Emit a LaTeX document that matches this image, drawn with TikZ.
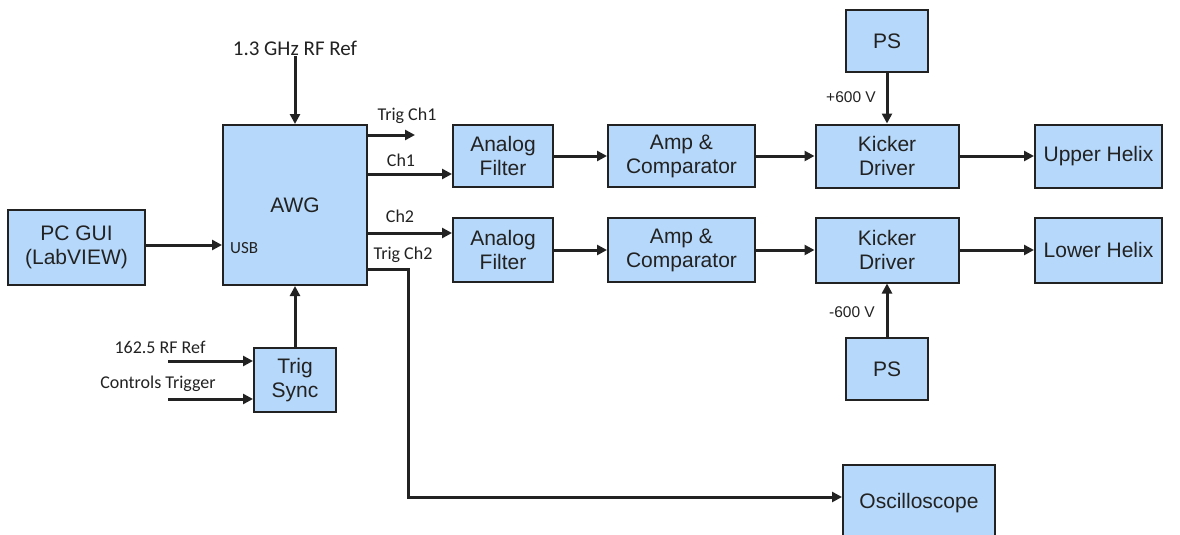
\documentclass[tikz,border=0pt]{standalone}
\usepackage{fontspec}
\setmainfont{Liberation Sans}
\newfontfamily\lblfont{Carlito}
\usetikzlibrary{arrows.meta,positioning,calc}
\definecolor{blockblue}{RGB}{182,216,250}
\definecolor{inkgray}{RGB}{34,34,34}

\begin{document}
\begin{tikzpicture}[x=1pt, y=-1pt,
    block/.style={draw=inkgray, line width=2pt, fill=blockblue, align=center, inner sep=0pt,
        text=inkgray, font=\fontsize{21}{24}\selectfont},
    sig/.style={draw=inkgray, line width=3pt, -{Triangle[length=10pt,width=10pt]}},
    lbl/.style={text=inkgray, inner sep=1pt, font=\lblfont\fontsize{18}{20}\selectfont},
    volt/.style={text=inkgray, inner sep=1pt, font=\fontsize{15.5}{18}\selectfont}]
    \useasboundingbox (0,0) rectangle (1180,535);
    \clip (0,0) rectangle (1180,535);

    % Генератор і керування
    \node[block, minimum width=137pt, minimum height=75pt] (pcgui) at (76.5,247.5) {PC GUI\\(LabVIEW)};
    \node[block, minimum width=144pt, minimum height=160pt] (awg) at (295,205) {AWG};
    \node[block, minimum width=82pt, minimum height=64pt] (trigsync) at (295,380) {Trig\\Sync};
    \node[lbl, font=\lblfont\fontsize{21}{24}\selectfont] (rfref) at (295,48) {1.3 GHz RF Ref};
    \node[lbl, font=\lblfont\fontsize{17}{20}\selectfont, anchor=west] (usb) at (229,248) {USB};
    \node[lbl] (rf162) at (160,347) {162.5 RF Ref};
    \node[lbl] (ctltrig) at (158,384) {Controls Trigger};
    \coordinate (rfin) at (168,361);
    \coordinate (ctlin) at (168,399);

    % Канал 1
    \node[block, minimum width=100pt, minimum height=62pt] (filt1) at (503,156) {Analog\\Filter};
    \node[block, minimum width=147pt, minimum height=62pt] (amp1) at (681.5,156) {Amp \&\\Comparator};
    \node[block, minimum width=143pt, minimum height=63pt] (kick1) at (887,156) {Kicker\\Driver};
    \node[block, minimum width=127pt, minimum height=63pt] (upper) at (1098.5,156) {Upper Helix};
    \node[block, minimum width=82pt, minimum height=62pt] (psup) at (887,41) {PS};

    % Канал 2
    \node[block, minimum width=100pt, minimum height=64pt] (filt2) at (503,250) {Analog\\Filter};
    \node[block, minimum width=147pt, minimum height=64pt] (amp2) at (681.5,250) {Amp \&\\Comparator};
    \node[block, minimum width=143pt, minimum height=65pt] (kick2) at (887,250) {Kicker\\Driver};
    \node[block, minimum width=127pt, minimum height=65pt] (lower) at (1098.5,250) {Lower Helix};
    \node[block, minimum width=82pt, minimum height=62pt] (psdn) at (887,369) {PS};

    \node[block, minimum width=152pt, minimum height=76pt] (scope) at (919,503) {Oscilloscope};

    % Підписи
    \node[lbl] at (407,116) {Trig Ch1};
    \node[lbl] at (401,160) {Ch1};
    \node[lbl] at (400,216) {Ch2};
    \node[lbl] at (403,255) {Trig Ch2};
    \node[volt] at (851,97) {+600 V};
    \node[volt] at (852,312) {-600 V};
    \coordinate (trigend) at (415,135);

    % Зв'язки
    \draw[sig] (rfref) -- (awg);
    \draw[sig] ([yshift=2.5pt]pcgui.east) -- ([yshift=-40pt]awg.west);
    \draw[sig] (trigsync) -- (awg);
    \draw[sig] (rfin) -- (rfin -| trigsync.west);
    \draw[sig] (ctlin) -- (ctlin -| trigsync.west);

    \draw[sig] ([yshift=70pt]awg.east) -- (trigend);
    \draw[sig] ([yshift=31pt]awg.east) -- ([yshift=-18pt]filt1.west);
    \draw[sig] ([yshift=-28pt]awg.east) -- ([yshift=17pt]filt2.west);
    \draw[sig] ([yshift=-64pt]awg.east) -- ++(40,0) |- ([yshift=6pt]scope.west);

    \draw[sig] (filt1) -- (amp1);
    \draw[sig] (amp1) -- (kick1);
    \draw[sig] (kick1) -- (upper);
    \draw[sig] (psup) -- (kick1);

    \draw[sig] (filt2) -- (amp2);
    \draw[sig] (amp2) -- (kick2);
    \draw[sig] (kick2) -- (lower);
    \draw[sig] (psdn) -- (kick2);
\end{tikzpicture}
\end{document}
